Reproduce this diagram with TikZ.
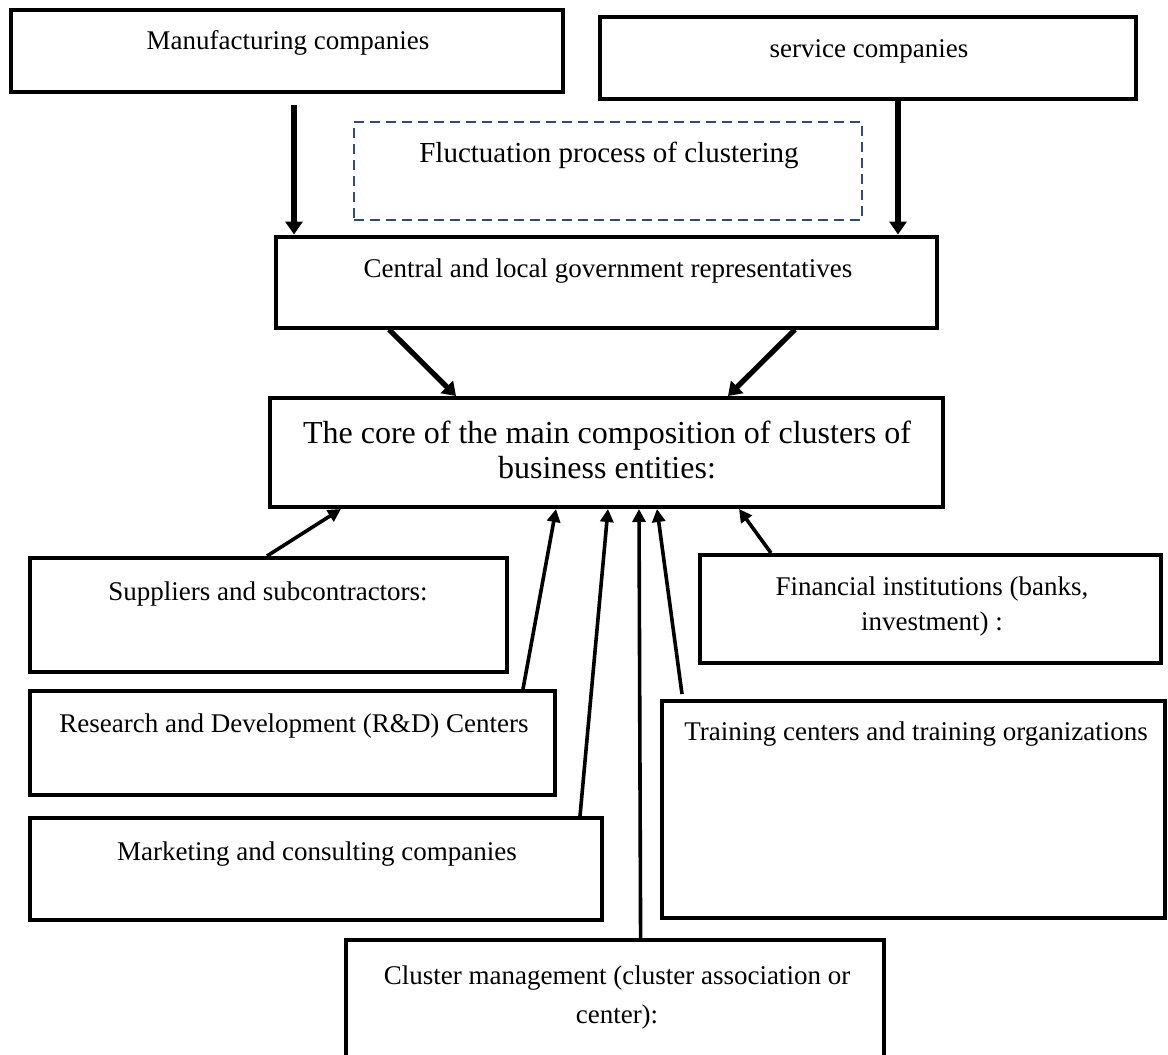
\documentclass[tikz,border=0pt]{standalone}
\usepackage{fontspec}
\setmainfont{Liberation Serif}
\usetikzlibrary{arrows.meta,calc}
\definecolor{navydash}{HTML}{2F4B7C}
\begin{document}
\begin{tikzpicture}[x=0.5pt,y=-0.5pt,
  box/.style={draw, line width=2pt, rectangle, inner sep=0pt},
  lbl/.style={anchor=base, font=\fontsize{13.5}{17}\selectfont, inner sep=0pt},
  biglbl/.style={anchor=base, font=\fontsize{16}{20}\selectfont, inner sep=0pt},
  bigarrow/.style={line width=2.6pt, -{Triangle[length=6.5pt,width=8.5pt]}},
  thinarrow/.style={line width=1.8pt, -{Triangle[length=6.5pt,width=6.5pt]}}
]
\useasboundingbox (0,0) rectangle (1168,1055);
\fill[white] (0,0) rectangle (1168,1055);

% boxes
\node[box, minimum width=276pt, minimum height=41pt] (mfg) at (287,50.5) {};
\node[box, minimum width=268pt, minimum height=41pt] (svc) at (868,57.5) {};
\node[draw=navydash, line width=1.4pt, dash pattern=on 5pt off 3pt, rectangle, inner sep=0pt,
      minimum width=254pt, minimum height=49pt] (fluct) at (608,171) {};
\node[box, minimum width=330.5pt, minimum height=45.5pt] (central) at (606.5,282) {};
\node[box, minimum width=336.5pt, minimum height=54.5pt] (core) at (606.5,452.5) {};
\node[box, minimum width=238.5pt, minimum height=57pt] (sup) at (268.5,615) {};
\node[box, minimum width=262.5pt, minimum height=52pt] (rd) at (292.5,743) {};
\node[box, minimum width=286pt, minimum height=51pt] (mkt) at (316,869) {};
\node[box, minimum width=230.5pt, minimum height=54pt] (fin) at (930.5,609) {};
\node[box, minimum width=251.5pt, minimum height=108.5pt] (trn) at (913.5,809.5) {};
\node[inner sep=0pt, minimum width=269pt, minimum height=61pt] (clu) at (615,1001) {};
\draw[line width=2pt] (clu.south west) -- (clu.north west) -- (clu.north east) -- (clu.south east);

% labels
\node[lbl] (mfgT) at (288,49) {Manufacturing companies};
\node[lbl] (svcT) at (869,57) {service companies};
\node[lbl, font=\fontsize{14.5}{18}\selectfont] (fluctT) at (609,162) {Fluctuation process of clustering};
\node[lbl] (centralT) at (608,277) {Central and local government representatives};
\node[biglbl] (coreT1) at (607,443) {The core of the main composition of clusters of};
\node[biglbl] (coreT2) at (607,478) {business entities:};
\node[lbl] (supT) at (268,600) {Suppliers and subcontractors:};
\node[lbl] (rdT) at (294,732) {Research and Development (R\&D) Centers};
\node[lbl] (mktT) at (317,860) {Marketing and consulting companies};
\node[lbl] (finT1) at (932,595) {Financial institutions (banks,};
\node[lbl] (finT2) at (932,630) {investment) :};
\node[lbl] (trnT) at (916,740) {Training centers and training organizations};
\node[lbl] (cluT1) at (617,984) {Cluster management (cluster association or};
\node[lbl] (cluT2) at (617,1023) {center):};

% arrows
\draw[bigarrow] ($(mfg.south west)+(285,11)$) -- ($(central.north west)+(20,0)$);
\draw[bigarrow] ($(svc.south west)+(300,0)$) -- ($(central.north west)+(624,0)$);
\draw[bigarrow] ($(central.south west)+(115,0)$) -- ($(core.north west)+(188,0)$);
\draw[bigarrow] ($(central.south west)+(521,0)$) -- ($(core.north west)+(460,0)$);
\draw[thinarrow] ($(sup.north west)+(239,0)$) -- ($(core.south west)+(73,0)$);
\draw[thinarrow] ($(rd.north west)+(495,0)$) -- ($(core.south west)+(288,0)$);
\draw[thinarrow] ($(mkt.north west)+(552,0)$) -- ($(core.south west)+(340,0)$);
\draw[thinarrow] ($(clu.north west)+(295,0)$) -- ($(core.south west)+(371,0)$);
\draw[thinarrow] ($(trn.north west)+(22,-5)$) -- ($(core.south west)+(389,0)$);
\draw[thinarrow] ($(fin.north west)+(73,0)$) -- ($(core.south west)+(471,0)$);
\end{tikzpicture}
\end{document}
